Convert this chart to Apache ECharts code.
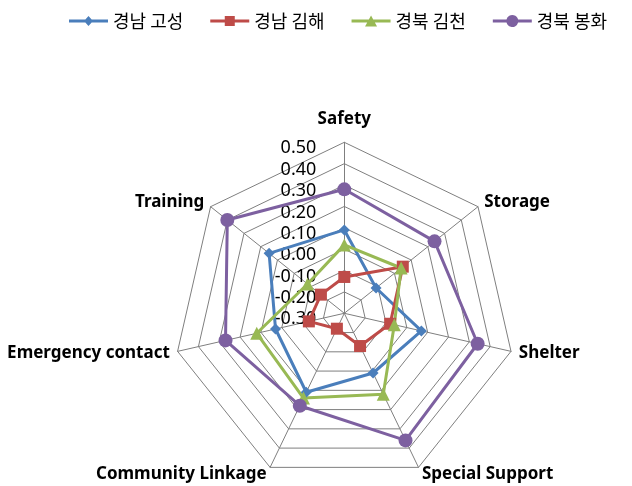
<!DOCTYPE html>
<html>
<head>
<meta charset="utf-8">
<script src="https://cdn.jsdelivr.net/npm/echarts@6/dist/echarts.min.js"></script>
<style>
  html, body { margin: 0; padding: 0; background: #fff; }
  #chart { width: 632px; height: 486px; }
</style>
</head>
<body>
<div id="chart"></div>
<script>
// categories, clockwise from the top as in the picture
var categories = ['Safety', 'Storage', 'Shelter', 'Special Support', 'Community Linkage', 'Emergency contact', 'Training'];
var seriesNames = ['경남 고성', '경남 김해', '경북 김천', '경북 봉화'];

var goseong = [0.09, -0.11, 0.07, 0.01, 0.11, 0.03, 0.15];
var gimhae  = [-0.13, 0.05, -0.08, -0.13, -0.22, -0.13, -0.16];
var gimcheon = [0.02, 0.04, -0.06, 0.12, 0.14, 0.12, -0.08];
var bonghwa = [0.28, 0.24, 0.34, 0.36, 0.18, 0.27, 0.40];

var axisMin = -0.3, axisMax = 0.5;

var colors = ['#4A7EBB', '#BE4B48', '#98B954', '#7D60A0'];
var symbols = ['diamond', 'rect', 'triangle', 'circle'];
var symbolSizes = [11, 12, 13, 14];

// legend icons: line with marker
var legendIcons = [
    'path://M0,0 M0,4.5 L16.35,4.5 L19.5,1 L22.65,4.5 L39,4.5 L39,7.5 L22.65,7.5 L19.5,11 L16.35,7.5 L0,7.5 Z M39,12',
    'path://M0,0 M0,4.5 L14.5,4.5 L14.5,1 L24.5,1 L24.5,4.5 L39,4.5 L39,7.5 L24.5,7.5 L24.5,11 L14.5,11 L14.5,7.5 L0,7.5 Z M39,12',
    'path://M0,0 M0,4.5 L17.3,4.5 L19.5,0.5 L21.7,4.5 L39,4.5 L39,7.5 L23.3,7.5 L25.5,11.5 L13.5,11.5 L15.7,7.5 L0,7.5 Z M39,12',
    'path://M0,4.5 L13.69,4.5 A6,6 0 0 1 25.31,4.5 L39,4.5 L39,7.5 L25.31,7.5 A6,6 0 0 1 13.69,7.5 L0,7.5 Z'
];

// echarts lays indicators out counter-clockwise, so reorder
var order = [0, 6, 5, 4, 3, 2, 1];
function reorder(arr) {
    return order.map(function (i) { return arr[i]; });
}

var allValues = [goseong, gimhae, gimcheon, bonghwa];

var indicators = reorder(categories).map(function (name, idx) {
    var ind = {name: name, min: axisMin, max: axisMax};
    if (idx === 0) {
        ind.nameGap = 15;
        ind.axisLabel = {show: true};
    }
    return ind;
});

var series = seriesNames.map(function (name, i) {
    return {
        name: name,
        type: 'radar',
        symbol: symbols[i],
        symbolSize: symbolSizes[i],
        lineStyle: {width: 3, color: colors[i]},
        itemStyle: {color: colors[i]},
        data: [{name: name, value: reorder(allValues[i])}]
    };
});

var option = {
    animation: false,
    legend: {
        left: 64,
        top: 7,
        itemWidth: 39,
        itemHeight: 12,
        itemGap: 27,
        textStyle: {fontSize: 18, color: '#000', fontFamily: 'Noto Sans CJK KR'},
        data: seriesNames.map(function (name, i) {
            return {name: name, icon: legendIcons[i], itemStyle: {color: colors[i], borderWidth: 0}};
        })
    },
    radar: {
        center: [344.3, 313.3],
        radius: 171,
        shape: 'polygon',
        splitNumber: 8,
        nameGap: 8,
        axisName: {color: '#000', fontSize: 17, fontWeight: 'bold', fontFamily: 'Noto Sans'},
        axisLine: {lineStyle: {color: '#7f7f7f', width: 1}},
        splitLine: {lineStyle: {color: '#7f7f7f', width: 1}},
        splitArea: {show: false},
        axisTick: {show: false},
        axisLabel: {
            show: false,
            color: '#000',
            fontSize: 18,
            fontFamily: 'Noto Sans',
            margin: 28,
            verticalAlign: 'top',
            lineHeight: 12,
            formatter: function (v) { return v.toFixed(2); }
        },
        indicator: indicators
    },
    series: series
};

var chart = echarts.init(document.getElementById('chart'));
chart.setOption(option);
</script>
</body>
</html>
